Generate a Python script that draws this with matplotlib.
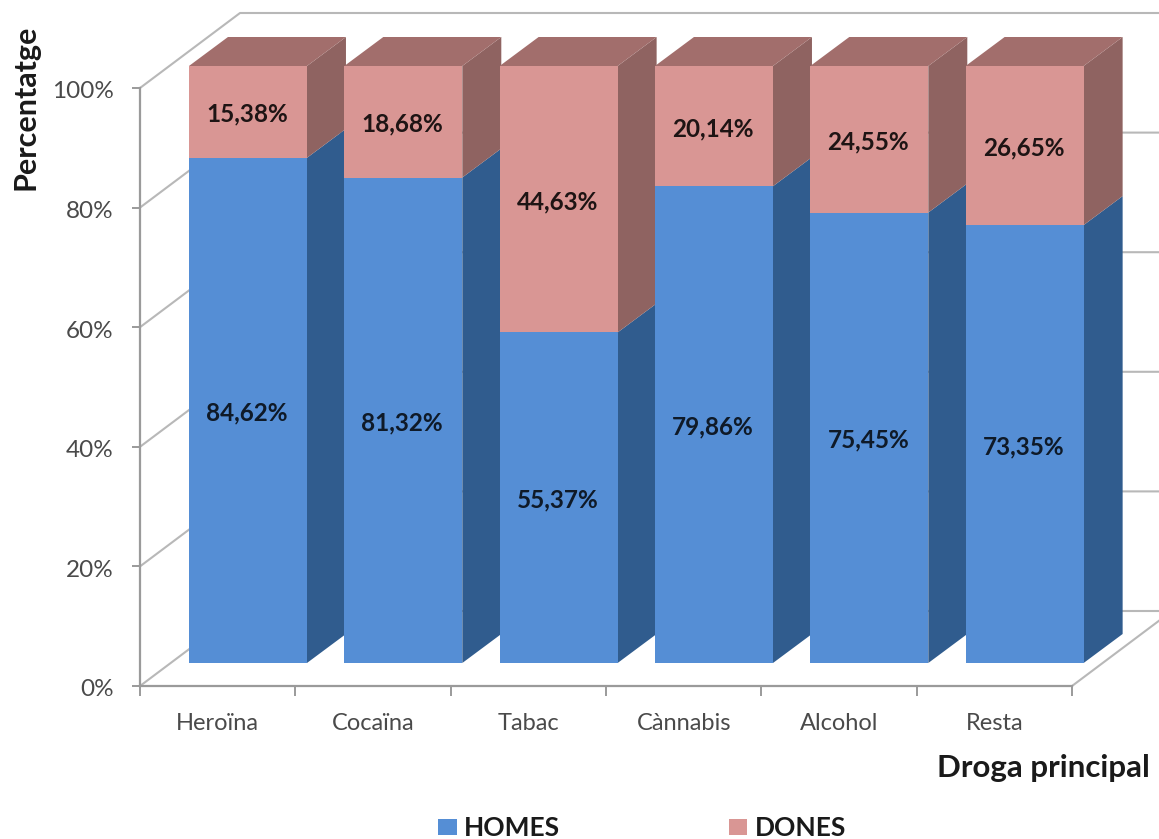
import matplotlib
matplotlib.use("Agg")
import matplotlib.pyplot as plt
from matplotlib.patches import Patch, Polygon
from matplotlib.transforms import ScaledTranslation

categories = ["Heroïna", "Cocaïna", "Tabac", "Cànnabis", "Alcohol", "Resta"]
homes = [84.62, 81.32, 55.37, 79.86, 75.45, 73.35]
dones = [15.38, 18.68, 44.63, 20.14, 24.55, 26.65]
series_names = ["HOMES", "DONES"]
value_ticks = [0, 20, 40, 60, 80, 100]

W, H = 1159, 839
FRONT = ["#558ED5", "#D99694"]
SIDE = ["#305C8E", "#8F6361"]
TOP = ["#305C8E", "#A26E6C"]
GRID = "#B8B8B8"
AXC = "#9A9A9A"
TXT = "#4A4A4A"
FONT = "Lato"

plt.rcParams["font.family"] = [FONT, "DejaVu Sans"]
fig = plt.figure(figsize=(W / 100, H / 100), dpi=100, facecolor="white")

# front plane of the 3-D box, given in pixels of the figure
L, R, B, T = 140, 1072, 686, 88
ax = fig.add_axes([L / W, 1 - B / H, (R - L) / W, (B - T) / H])
ax.set_xlim(0, len(categories))
ax.set_ylim(0, 100)
ax.patch.set_alpha(0)
xu = len(categories) / (R - L)   # data units per pixel
yu = 100 / (B - T)

# walls
wall_dx, wall_dy = 100 * xu, 75 * yu
for v in value_ticks:
    ax.plot([0, wall_dx, len(categories) + wall_dx], [v, v + wall_dy, v + wall_dy],
            color=GRID, lw=1.5, clip_on=False, zorder=1)
ax.plot([len(categories), len(categories) + wall_dx], [0, wall_dy],
        color=GRID, lw=1.5, clip_on=False, zorder=1)

# 3-D stacked bars
bar_w = 118 * xu
off_x, off_y = 30.3 * xu, 23 * yu     # bar plane relative to the front plane
dep_x, dep_y = 39 * xu, 29 * yu       # bar depth
bar_h = 597 / 598

for i in range(len(categories)):
    x0 = i + 0.5 - bar_w / 2 + off_x
    x1 = x0 + bar_w
    base = 0
    for s, vals in enumerate([homes, dones]):
        y0 = base * bar_h + off_y
        y1 = (base + vals[i]) * bar_h + off_y
        ax.add_patch(Polygon([(x1, y0), (x1 + dep_x, y0 + dep_y), (x1 + dep_x, y1 + dep_y), (x1, y1)],
                             closed=True, fc=SIDE[s], ec="none", clip_on=False, zorder=2 + i))
        ax.bar(x0, y1 - y0, width=bar_w, bottom=y0, align="edge", color=FRONT[s],
               lw=0, clip_on=False, zorder=2 + i)
        if s == 1:
            ax.add_patch(Polygon([(x0, y1), (x0 + dep_x, y1 + dep_y), (x1 + dep_x, y1 + dep_y), (x1, y1)],
                                 closed=True, fc=TOP[s], ec="none", clip_on=False, zorder=2 + i))
        ax.text((x0 + x1) / 2 - 1 * xu, (y0 + y1) / 2 - 2.5 * yu, f"{vals[i]:.2f}%".replace(".", ","),
                ha="center", va="center", fontsize=17.5, fontweight="bold",
                color="#1E1414" if s else "#0F1A28", zorder=20)
        base += vals[i]

# axes furniture
for k in ("top", "right"):
    ax.spines[k].set_visible(False)
for k in ("left", "bottom"):
    ax.spines[k].set_color(AXC)
    ax.spines[k].set_linewidth(1.6)
ax.set_yticks(value_ticks)
ax.set_yticklabels([f"{v}%" for v in value_ticks], fontsize=17.5, color=TXT)
ax.tick_params(axis="y", length=6, width=1.4, color=AXC, pad=13)
shift = ScaledTranslation(0, -2 / 100, fig.dpi_scale_trans)
for lab in ax.get_yticklabels():
    lab.set_transform(lab.get_transform() + shift)
ax.set_xticks(range(len(categories) + 1))
ax.set_xticklabels([])
ax.tick_params(axis="x", which="major", length=7, width=1.4, color=AXC)
ax.set_xticks([i + 0.5 for i in range(len(categories))], minor=True)
ax.set_xticklabels(categories, minor=True, fontsize=17, color=TXT)
ax.tick_params(axis="x", which="minor", length=0, pad=19.5)

fig.text(26 / W, 1 - 107 / H, "Percentatge", rotation=90, ha="center", va="center",
         fontsize=22, fontweight="bold", color="#1A1A1A")
fig.text(1150 / W, 1 - 768 / H, "Droga principal", ha="right", va="center",
         fontsize=22.5, fontweight="bold", color="#1A1A1A")

handles = [Patch(fc=FRONT[0], lw=0), Patch(fc=FRONT[1], lw=0)]
fig.legend(handles, series_names, loc="center", bbox_to_anchor=(642 / W, 1 - 828 / H), ncols=2,
           frameon=False, handlelength=0.7, handleheight=0.55, handletextpad=0.27,
           columnspacing=6.4, borderpad=0, prop={"family": FONT, "size": 19, "weight": "bold"},
           labelcolor="#1A1A1A")

fig.savefig("out.png", dpi=100, facecolor="white")
